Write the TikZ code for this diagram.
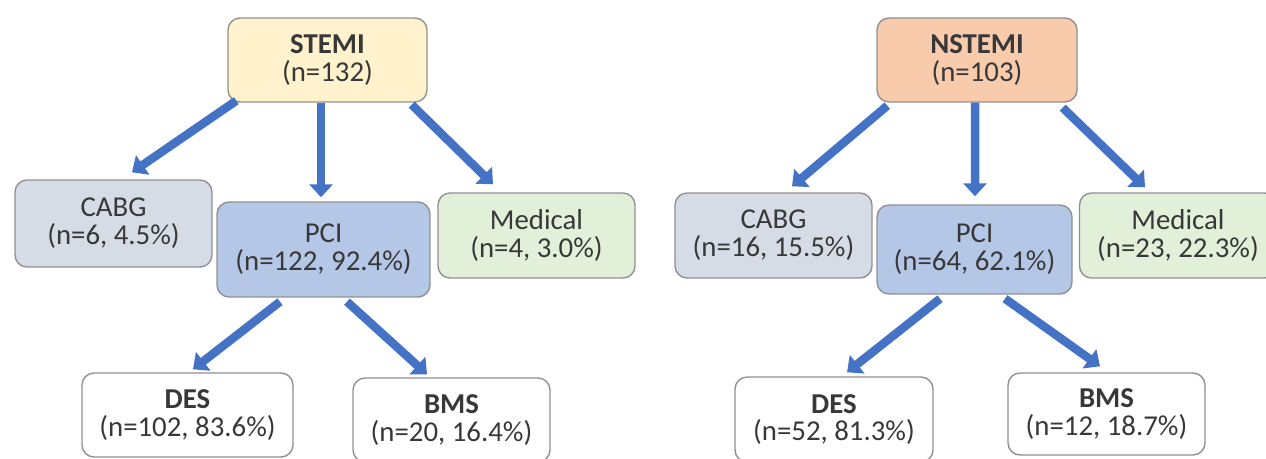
\documentclass[tikz,border=0pt]{standalone}
\usepackage{fontspec}
\setmainfont{Carlito}
\usetikzlibrary{arrows.meta}

\definecolor{boxline}{HTML}{909090}
\definecolor{txt}{HTML}{383838}
\definecolor{stemifill}{HTML}{FFF2CC}
\definecolor{nstemifill}{HTML}{F8CBAD}
\definecolor{cabgfill}{HTML}{D6DCE5}
\definecolor{pcifill}{HTML}{B4C7E7}
\definecolor{medfill}{HTML}{E2F0D9}
\definecolor{flowblue}{HTML}{4472C4}

\begin{document}
\begin{tikzpicture}[x=0.02cm, y=-0.02cm]
                \tikzset{box/.style={draw=boxline, line width=0.8pt, rounded corners=0.24cm,
                                     align=center, text=txt, inner sep=0pt,
                                     font=\fontsize{16.4}{15.8}\selectfont},
                         flow/.style={draw=flowblue, line width=0.17cm,
                                      -{Triangle[width=0.46cm, length=0.26cm]}}}
                \useasboundingbox (0,0) rectangle (1266,459);
                % STEMI tree
                \node[box, fill=stemifill, minimum width=3.98cm, minimum height=1.68cm] (stemi) at (327.5,60) {\textbf{STEMI}\\(n=132)};
                \node[box, fill=cabgfill, minimum width=3.94cm, minimum height=1.74cm] (cabgL) at (113.5,223.5) {CABG\\(n=6, 4.5\%)};
                \node[box, fill=pcifill, minimum width=4.26cm, minimum height=1.9cm] (pciL) at (323.5,249.5) {PCI\\(n=122, 92.4\%)};
                \node[box, fill=medfill, minimum width=3.94cm, minimum height=1.7cm] (medL) at (536.5,235.5) {Medical\\(n=4, 3.0\%)};
                \node[box, fill=white, minimum width=4.22cm, minimum height=1.68cm] (desL) at (187.5,415) {\textbf{DES}\\(n=102, 83.6\%)};
                \node[box, fill=white, minimum width=3.94cm, minimum height=1.68cm] (bmsL) at (451.5,420) {\textbf{BMS}\\(n=20, 16.4\%)};
                % NSTEMI tree
                \node[box, fill=nstemifill, minimum width=4cm, minimum height=1.68cm] (nstemi) at (977,60) {\textbf{NSTEMI}\\(n=103)};
                \node[box, fill=cabgfill, minimum width=3.94cm, minimum height=1.7cm] (cabgR) at (773.5,235.5) {CABG\\(n=16, 15.5\%)};
                \node[box, fill=pcifill, minimum width=3.9cm, minimum height=1.78cm] (pciR) at (974.5,249.5) {PCI\\(n=64, 62.1\%)};
                \node[box, fill=medfill, minimum width=3.94cm, minimum height=1.7cm] (medR) at (1178,235.5) {Medical\\(n=23, 22.3\%)};
                \node[box, fill=white, minimum width=3.96cm, minimum height=1.7cm] (desR) at (834,419.5) {\textbf{DES}\\(n=52, 81.3\%)};
                \node[box, fill=white, minimum width=3.94cm, minimum height=1.64cm] (bmsR) at (1106.5,414) {\textbf{BMS}\\(n=12, 18.7\%)};
                % arrows
                \draw[flow] ([shift={(9,-2)}]stemi.south west) -- ([shift={(18.5,-7)}]cabgL.north);
                \draw[flow] ([shift={(-6.5,0)}]stemi.south) -- ([shift={(-2.5,-4)}]pciL.north);
                \draw[flow] ([shift={(-16,2)}]stemi.south east) -- ([shift={(-43.5,-8)}]medL.north);
                \draw[flow] ([shift={(-43.5,4)}]pciL.south) -- ([shift={(5.5,-3)}]desL.north);
                \draw[flow] ([shift={(23.5,4)}]pciL.south) -- ([shift={(-24.5,-3)}]bmsL.north);
                \draw[flow] ([shift={(11,3)}]nstemi.south west) -- ([shift={(18.5,-6)}]cabgR.north);
                \draw[flow] ([shift={(-2,0)}]nstemi.south) -- ([shift={(0.5,-8)}]pciR.north);
                \draw[flow] ([shift={(-15,5)}]nstemi.south east) -- ([shift={(-33,-5)}]medR.north);
                \draw[flow] ([shift={(-34.5,4)}]pciR.south) -- ([shift={(13,-4)}]desR.north);
                \draw[flow] ([shift={(30.5,4)}]pciR.south) -- ([shift={(-6.5,-6)}]bmsR.north);
\end{tikzpicture}
\end{document}
